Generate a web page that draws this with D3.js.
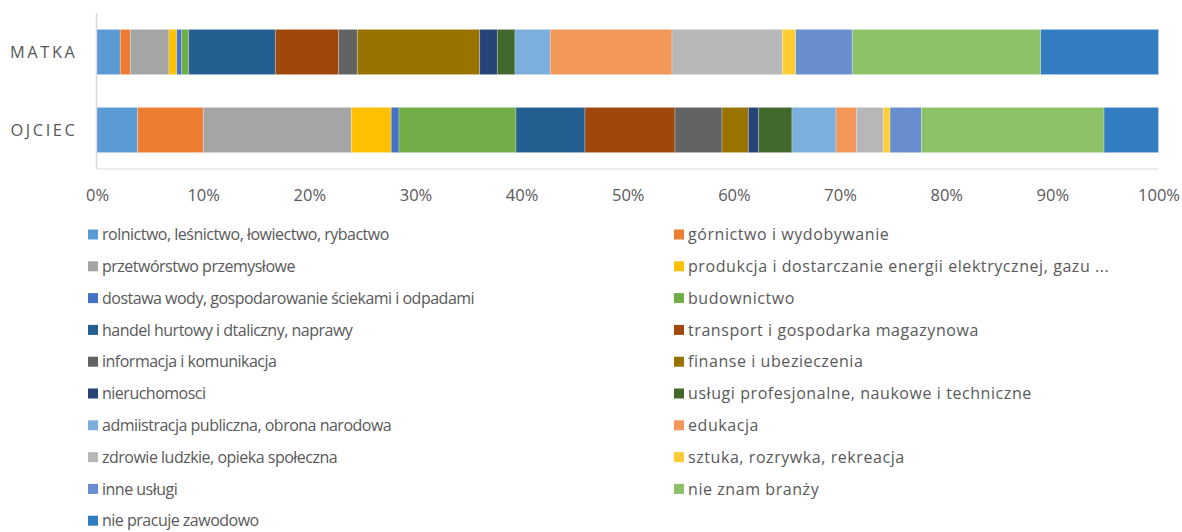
<!DOCTYPE html>
<html><head><meta charset="utf-8">
<script src="https://cdn.jsdelivr.net/npm/d3@7"></script>
<style>
body{margin:0;background:#fff;}
svg text{font-family:"Open Sans",sans-serif;}
</style></head>
<body><svg id="c" width="1182" height="532"></svg>
<script>
const categories = ["MATKA", "OJCIEC"];
const seriesNames = [
  "rolnictwo, leśnictwo, łowiectwo, rybactwo",
  "górnictwo i wydobywanie",
  "przetwórstwo przemysłowe",
  "produkcja i dostarczanie energii elektrycznej, gazu ...",
  "dostawa wody, gospodarowanie ściekami i odpadami",
  "budownictwo",
  "handel hurtowy i dtaliczny, naprawy",
  "transport i gospodarka magazynowa",
  "informacja i komunikacja",
  "finanse i ubezieczenia",
  "nieruchomosci",
  "usługi profesjonalne, naukowe i techniczne",
  "admiistracja publiczna, obrona narodowa",
  "edukacja",
  "zdrowie ludzkie, opieka społeczna",
  "sztuka, rozrywka, rekreacja",
  "inne usługi",
  "nie znam branży",
  "nie pracuje zawodowo"
];
const matkaValues = [2.19, 0.95, 3.64, 0.73, 0.47, 0.66, 8.16, 5.97, 1.75, 11.53, 1.66, 1.67, 3.32, 11.47, 10.39, 1.26, 5.33, 17.75, 11.10];
const ojciecValues = [3.83, 6.18, 13.95, 3.76, 0.73, 11.02, 6.50, 8.48, 4.43, 2.48, 0.98, 3.13, 4.15, 1.91, 2.54, 0.64, 2.95, 17.21, 5.13];
const colors = ["#5B9BD5","#ED7D31","#A5A5A5","#FFC000","#4472C4","#70AD47","#255E91","#9E480E","#636363","#997300","#264478","#43682B","#7CAFDD","#F1975A","#B7B7B7","#FFCD33","#698ED0","#8CC168","#327DC2"];
const tickValues = [0,10,20,30,40,50,60,70,80,90,100];

const svg = d3.select("#c");
const mLeft = 97, mRight = 1158.5, mTop = 13, mBottom = 169;

// normalize to 100%
const rows = [matkaValues, ojciecValues].map((vals, i) => {
  const tot = d3.sum(vals);
  const o = {cat: categories[i]};
  seriesNames.forEach((s, j) => o[s] = vals[j] / tot * 100);
  return o;
});
const stacked = d3.stack().keys(seriesNames)(rows);

const x = d3.scaleLinear().domain([0, 100]).range([mLeft, mRight]);
const y = d3.scaleBand().domain(categories).range([mTop, mBottom]).paddingInner(0.42).paddingOuter(0.21);

// axes lines
svg.append("line").attr("x1", mLeft).attr("x2", mRight).attr("y1", mBottom).attr("y2", mBottom)
  .attr("stroke", "#D9D9D9").attr("stroke-width", 1);
svg.append("line").attr("x1", mLeft - 0.5).attr("x2", mLeft - 0.5).attr("y1", mTop).attr("y2", mBottom)
  .attr("stroke", "#D9D9D9").attr("stroke-width", 1.5);

svg.append("g").selectAll("g").data(stacked).join("g")
  .attr("fill", (d, i) => colors[i])
  .selectAll("rect").data(d => d).join("rect")
  .attr("x", d => x(d[0]))
  .attr("width", d => x(d[1]) - x(d[0]))
  .attr("y", d => y(d.data.cat))
  .attr("height", y.bandwidth())
  .attr("stroke", "rgba(255,255,255,0.35)")
  .attr("stroke-width", 0.75);

// x axis
const xAxis = d3.axisBottom(x).tickValues(tickValues).tickFormat(d => d + "%").tickSize(0).tickPadding(0);
const gx = svg.append("g").attr("transform", `translate(0,${mBottom + 31.5})`).call(xAxis);
gx.select(".domain").remove();
gx.selectAll("text").attr("fill", "#595959").attr("font-size", "16.5px").attr("dy", 0).attr("font-family", '"Open Sans",sans-serif');

// y axis
const yAxis = d3.axisLeft(y).tickSize(0).tickPadding(0);
const gy = svg.append("g").attr("transform", `translate(${mLeft - 19.5},0)`).call(yAxis);
gy.select(".domain").remove();
gy.selectAll("text").attr("fill", "#595959").attr("font-size", "16.4px").attr("letter-spacing", "2.6px")
  .attr("dy", "0.36em").attr("font-family", '"Open Sans",sans-serif');

// legend
const leg = svg.append("g");
seriesNames.forEach((s, i) => {
  const col = i % 2, row = Math.floor(i / 2);
  const cx = col === 0 ? 88 : 674;
  const cy = 234.5 + row * 31.8;
  leg.append("rect").attr("x", cx).attr("y", cy - 5).attr("width", 10).attr("height", 10).attr("fill", colors[i]);
  leg.append("text").attr("x", cx + 14).attr("y", cy).attr("dy", "0.36em")
    .attr("fill", "#595959").attr("font-size", "16px")
    .attr("letter-spacing", col === 0 ? "-0.5px" : "0.57px").text(s);
});
</script></body></html>
